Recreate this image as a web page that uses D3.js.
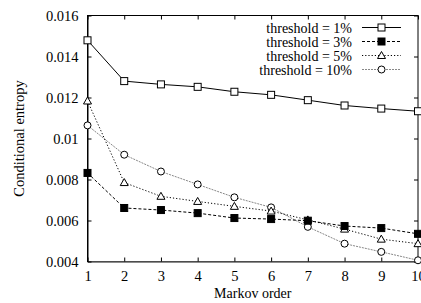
<!DOCTYPE html>
<html lang="en">
<head>
<meta charset="UTF-8">
<title>Conditional entropy vs Markov order</title>
<script src="https://d3js.org/d3.v7.min.js"></script>
<style>
    * { margin: 0; padding: 0; box-sizing: border-box; }
    html, body { width: 421px; height: 303px; background: #fff; overflow: hidden; }
    svg, svg text { font-family: "Liberation Serif", "Times New Roman", serif; }
    svg { display: block; }
    .tick text { fill: #000; }
</style>
</head>
<body>
<svg id="chart" width="421" height="303"></svg>
<script>
    // Markov order on x
    const orders = [1, 2, 3, 4, 5, 6, 7, 8, 9, 10];
    const yTicks = [0.004, 0.006, 0.008, 0.01, 0.012, 0.014, 0.016];
    const yTickLabels = ["0.004", "0.006", "0.008", "0.01", "0.012", "0.014", "0.016"];

    // conditional entropy per threshold
    const thr1  = [0.01479, 0.01280, 0.01264, 0.01252, 0.01228, 0.01213, 0.01187, 0.01161, 0.01146, 0.01133];
    const thr3  = [0.00832, 0.00661, 0.00651, 0.00636, 0.00612, 0.00607, 0.00599, 0.00573, 0.00563, 0.00535];
    const thr5  = [0.01183, 0.00785, 0.00718, 0.00693, 0.00669, 0.00646, 0.00603, 0.00558, 0.00509, 0.00487];
    const thr10 = [0.01064, 0.00921, 0.00839, 0.00776, 0.00713, 0.00664, 0.00569, 0.00487, 0.00447, 0.00406];

    const seriesNames = ["threshold = 1%", "threshold = 3%", "threshold = 5%", "threshold = 10%"];

    const series = [
        { name: seriesNames[0], values: thr1,  color: "#000", dash: null,  marker: "square" },
        { name: seriesNames[1], values: thr3,  color: "#000", dash: "3,2", marker: "filled" },
        { name: seriesNames[2], values: thr5,  color: "#000", dash: "1.2,2", marker: "triangle" },
        { name: seriesNames[3], values: thr10, color: "#888", dash: "2,1", marker: "circle" }
    ];

    const font = "Liberation Serif, Times New Roman, serif";
    const fontSize = 14.5;
    const svg = d3.select("#chart");
    const margin = { left: 87.5, right: 418, top: 15.5, bottom: 261.5 };

    const x = d3.scaleLinear().domain([1, 10]).range([margin.left, margin.right]);
    const y = d3.scaleLinear().domain([0.004, 0.016]).range([margin.bottom, margin.top]);

    // frame
    svg.append("rect")
        .attr("x", margin.left).attr("y", margin.top)
        .attr("width", margin.right - margin.left)
        .attr("height", margin.bottom - margin.top)
        .attr("fill", "none").attr("stroke", "#000").attr("stroke-width", 1);

    // axes with inward ticks
    const xAxis = svg.append("g")
        .attr("transform", `translate(0,${margin.bottom})`)
        .call(d3.axisBottom(x).tickValues(orders).tickFormat(d3.format("d")).tickSizeInner(-4).tickSizeOuter(0).tickPadding(9));
    xAxis.select(".domain").attr("stroke", "#666").attr("stroke-width", 1.6);

    const xTop = svg.append("g")
        .attr("transform", `translate(0,${margin.top})`)
        .call(d3.axisTop(x).tickValues(orders).tickSizeInner(-4).tickSizeOuter(0).tickFormat(""));
    xTop.select(".domain").remove();

    const yAxis = svg.append("g")
        .attr("transform", `translate(${margin.left},0)`)
        .call(d3.axisLeft(y).tickValues(yTicks).tickFormat((d, i) => yTickLabels[i]).tickSizeInner(-4).tickSizeOuter(0).tickPadding(9));
    yAxis.select(".domain").attr("stroke", "#000");

    const yRight = svg.append("g")
        .attr("transform", `translate(${margin.right},0)`)
        .call(d3.axisRight(y).tickValues(yTicks).tickSizeInner(-4).tickSizeOuter(0).tickFormat(""));
    yRight.select(".domain").remove();

    svg.selectAll("g").attr("font-family", font).attr("font-size", fontSize);
    svg.selectAll(".tick line").attr("stroke", "#000");

    // axis titles
    svg.append("text")
        .attr("x", (margin.left + margin.right) / 2)
        .attr("y", 297.5)
        .attr("text-anchor", "middle")
        .attr("font-family", font)
        .attr("font-size", 14)
        .text("Markov order");

    svg.append("text")
        .attr("transform", `translate(24,${(margin.top + margin.bottom) / 2}) rotate(-90)`)
        .attr("text-anchor", "middle")
        .attr("font-family", font)
        .attr("font-size", fontSize)
        .text("Conditional entropy");

    function drawMarker(g, type, cx, cy) {
        if (type === "square" || type === "filled") {
            g.append("rect")
                .attr("x", cx - 3.5).attr("y", cy - 3.5)
                .attr("width", 7).attr("height", 7)
                .attr("fill", type === "filled" ? "#000" : "#fff")
                .attr("stroke", "#000").attr("stroke-width", 1);
        } else if (type === "triangle") {
            g.append("path")
                .attr("d", `M${cx},${cy - 4}L${cx + 4},${cy + 3}L${cx - 4},${cy + 3}Z`)
                .attr("fill", "#fff").attr("stroke", "#000").attr("stroke-width", 1);
        } else {
            g.append("circle")
                .attr("cx", cx).attr("cy", cy).attr("r", 3.5)
                .attr("fill", "#fff").attr("stroke", "#000").attr("stroke-width", 1);
        }
    }

    const line = d3.line().x((d, i) => x(orders[i])).y(d => y(d));

    // draw last series first so the solid line sits on top
    series.slice().reverse().forEach(s => {
        svg.append("path")
            .datum(s.values)
            .attr("d", line)
            .attr("fill", "none")
            .attr("stroke", s.color)
            .attr("stroke-width", 1)
            .attr("stroke-dasharray", s.dash);
        const g = svg.append("g");
        s.values.forEach((v, i) => drawMarker(g, s.marker, x(orders[i]), y(v)));
    });

    // legend
    const legend = svg.append("g");
    series.forEach((s, i) => {
        const ly = 27.5 + i * 14;
        legend.append("text")
            .attr("x", 352).attr("y", ly + 5)
            .attr("text-anchor", "end")
            .attr("font-family", font)
            .attr("font-size", 14)
            .text(s.name);
        legend.append("line")
            .attr("x1", 362).attr("x2", 401)
            .attr("y1", ly).attr("y2", ly)
            .attr("stroke", s.color).attr("stroke-width", 1)
            .attr("stroke-dasharray", s.dash);
        drawMarker(legend, s.marker, 381.5, ly);
    });
</script>
</body>
</html>
